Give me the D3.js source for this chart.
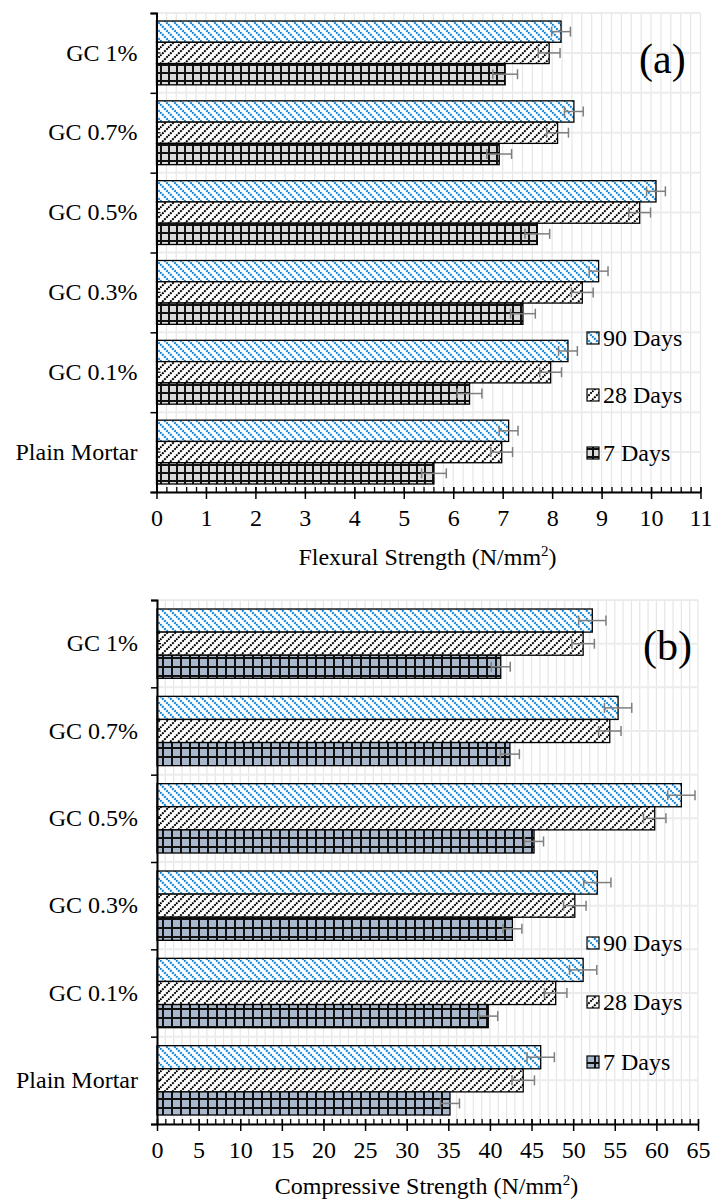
<!DOCTYPE html>
<html>
<head>
<meta charset="utf-8">
<script src="https://cdn.jsdelivr.net/npm/d3@7"></script>
<style>
  html, body { margin: 0; padding: 0; background: #fff; }
  svg { display: block; }
  text { font-family: "Liberation Serif", "Times New Roman", serif; fill: #000; }
</style>
</head>
<body>
<svg id="chart" width="712" height="1200"></svg>
<script>
// Mix designs, listed top to bottom as they appear on the category axis
const categories = ["GC 1%", "GC 0.7%", "GC 0.5%", "GC 0.3%", "GC 0.1%", "Plain Mortar"];
const seriesNames = ["90 Days", "28 Days", "7 Days"];

// Flexural strength (N/mm²)
const flexural90 = [8.18, 8.44, 10.10, 8.94, 8.32, 7.12];
const flexural28 = [7.94, 8.11, 9.77, 8.61, 7.97, 6.98];
const flexural7  = [7.05, 6.93, 7.70, 7.41, 6.33, 5.61];
const flexuralErr90 = [0.19, 0.19, 0.19, 0.19, 0.19, 0.19];
const flexuralErr28 = [0.22, 0.22, 0.22, 0.22, 0.22, 0.22];
const flexuralErr7  = [0.25, 0.25, 0.25, 0.25, 0.25, 0.25];
const flexuralTicks = [0, 1, 2, 3, 4, 5, 6, 7, 8, 9, 10, 11];

// Compressive strength (N/mm²)
const compressive90 = [52.3, 55.4, 63.0, 52.9, 51.2, 46.1];
const compressive28 = [51.2, 54.4, 59.8, 50.2, 47.9, 44.0];
const compressive7  = [41.3, 42.4, 45.3, 42.7, 39.8, 35.2];
const compressiveErr90 = [1.64, 1.64, 1.64, 1.64, 1.64, 1.64];
const compressiveErr28 = [1.35, 1.35, 1.35, 1.35, 1.35, 1.35];
const compressiveErr7  = [1.14, 1.14, 1.14, 1.14, 1.14, 1.14];
const compressiveTicks = [0, 5, 10, 15, 20, 25, 30, 35, 40, 45, 50, 55, 60, 65];

const svg = d3.select("#chart");
svg.append("rect").attr("width", 712).attr("height", 1200).attr("fill", "#fff");
const defs = svg.append("defs");

// Fill patterns: 90 days = blue downward diagonal, 28 days = black upward diagonal,
// 7 days = black grid over a tinted background (one tint per panel)
function diagDown(id, color, size) {
  const p = defs.append("pattern").attr("id", id).attr("patternUnits", "userSpaceOnUse")
    .attr("width", size).attr("height", size);
  p.append("rect").attr("width", size).attr("height", size).attr("fill", "#fff");
  p.append("path")
    .attr("d", `M0,0L${size},${size}M${-size/2},${size/2}L${size/2},${size*1.5}M${size/2},${-size/2}L${size*1.5},${size/2}`)
    .attr("stroke", color).attr("stroke-width", 2.2).attr("stroke-dasharray", "2,1");
}
function diagUp(id, color, size) {
  const p = defs.append("pattern").attr("id", id).attr("patternUnits", "userSpaceOnUse")
    .attr("width", size).attr("height", size);
  p.append("rect").attr("width", size).attr("height", size).attr("fill", "#fff");
  p.append("path")
    .attr("d", `M0,${size}L${size},0M${-size/2},${size/2}L${size/2},${-size/2}M${size/2},${size*1.5}L${size*1.5},${size/2}`)
    .attr("stroke", color).attr("stroke-width", 2).attr("stroke-dasharray", "2,1");
}
function grid(id, fill, size) {
  const p = defs.append("pattern").attr("id", id).attr("patternUnits", "userSpaceOnUse")
    .attr("width", size).attr("height", size);
  p.append("rect").attr("width", size).attr("height", size).attr("fill", fill);
  p.append("rect").attr("width", size).attr("height", 2).attr("fill", "#111");
  p.append("rect").attr("width", 2).attr("height", size).attr("fill", "#111");
}
diagDown("pat90", "#1386d2", 8);
diagUp("pat28", "#000", 8);
grid("pat7a", "#d9d9d9", 8);
grid("pat7b", "#a9b8cc", 9);

const FONT = 24;

const panels = [
  {
    top: 13, bottom: 492, left: 156.5, right: 700.5,
    ticks: flexuralTicks, minorStep: 0.2,
    values: [flexural90, flexural28, flexural7],
    errors: [flexuralErr90, flexuralErr28, flexuralErr7],
    fills: ["url(#pat90)", "url(#pat28)", "url(#pat7a)"],
    title: "Flexural Strength (N/mm", titleY: 565,
    tag: "(a)", tagX: 639, tagY: 73,
    legendY: [338, 395, 453], pad: 8
  },
  {
    top: 600, bottom: 1124, left: 157, right: 698,
    ticks: compressiveTicks, minorStep: 1,
    values: [compressive90, compressive28, compressive7],
    errors: [compressiveErr90, compressiveErr28, compressiveErr7],
    fills: ["url(#pat90)", "url(#pat28)", "url(#pat7b)"],
    title: "Compressive Strength (N/mm", titleY: 1194,
    tag: "(b)", tagX: 643, tagY: 660,
    legendY: [943, 1002, 1062], pad: 9
  }
];

panels.forEach(cfg => {
  const g = svg.append("g");
  const maxV = cfg.ticks[cfg.ticks.length - 1];
  const x = d3.scaleLinear().domain([0, maxV]).range([cfg.left, cfg.right]);
  const y0 = d3.scaleBand().domain(categories).range([cfg.top, cfg.bottom]).padding(0);
  const bw = y0.bandwidth();
  const y1 = d3.scaleBand().domain(seriesNames).range([cfg.pad, bw - cfg.pad]).padding(0);
  const yEdge = d3.scaleLinear().domain([0, categories.length]).range([cfg.top, cfg.bottom]);

  // Gridlines
  const minorVals = d3.range(0, maxV + 1e-9, cfg.minorStep);
  g.append("g").selectAll("line").data(minorVals).join("line")
    .attr("x1", d => x(d)).attr("x2", d => x(d))
    .attr("y1", cfg.top).attr("y2", cfg.bottom)
    .attr("stroke", "#e6e6e6").attr("stroke-width", 1.2);
  const halfVals = d3.range(0, categories.length + 1e-9, 0.5);
  g.append("g").selectAll("line").data(halfVals).join("line")
    .attr("x1", cfg.left).attr("x2", cfg.right)
    .attr("y1", d => yEdge(d)).attr("y2", d => yEdge(d))
    .attr("stroke", "#ececec").attr("stroke-width", 2);

  // Bars
  seriesNames.forEach((s, si) => {
    g.append("g").selectAll("rect").data(categories).join("rect")
      .attr("x", x(0))
      .attr("y", c => y0(c) + y1(s))
      .attr("width", (c, i) => x(cfg.values[si][i]) - x(0))
      .attr("height", y1.bandwidth())
      .attr("fill", cfg.fills[si])
      .attr("stroke", "#000").attr("stroke-width", 1.3);
  });

  // Error bars
  seriesNames.forEach((s, si) => {
    const eg = g.append("g").attr("stroke", "#7f7f7f").attr("stroke-width", 1.5);
    categories.forEach((c, i) => {
      const v = cfg.values[si][i], e = cfg.errors[si][i];
      const cy = y0(c) + y1(s) + y1.bandwidth() / 2;
      eg.append("line").attr("x1", x(v - e)).attr("x2", x(v + e)).attr("y1", cy).attr("y2", cy);
      eg.append("line").attr("x1", x(v - e)).attr("x2", x(v - e)).attr("y1", cy - 5).attr("y2", cy + 5);
      eg.append("line").attr("x1", x(v + e)).attr("x2", x(v + e)).attr("y1", cy - 5).attr("y2", cy + 5);
    });
  });

  // X axis: minor ticks inside, major ticks crossing, labels below
  const xMinor = g.append("g").attr("transform", `translate(0,${cfg.bottom})`)
    .call(d3.axisBottom(x).tickValues(minorVals).tickSize(-5).tickFormat(""));
  xMinor.select(".domain").remove();
  xMinor.selectAll("line").attr("stroke", "#000").attr("stroke-width", 1.3);
  const xMajor = g.append("g").attr("transform", `translate(0,${cfg.bottom})`)
    .call(d3.axisBottom(x).tickValues(cfg.ticks).tickSizeInner(7).tickSizeOuter(0).tickPadding(10).tickFormat(d3.format("d")));
  xMajor.attr("font-family", null).attr("font-size", null);
  xMajor.select(".domain").attr("stroke", "#000").attr("stroke-width", 2);
  xMajor.selectAll(".tick line").attr("stroke", "#000").attr("stroke-width", 1.5)
    .attr("y1", -5);
  xMajor.selectAll("text").attr("font-size", FONT).attr("fill", "#000");

  // Y axis: boundary ticks outside, centre ticks inside, category labels
  const yTicks = g.append("g").attr("transform", `translate(${cfg.left},0)`)
    .call(d3.axisLeft(yEdge).tickValues(d3.range(0, categories.length + 1)).tickSize(6).tickFormat(""));
  yTicks.select(".domain").attr("stroke", "#000").attr("stroke-width", 2);
  yTicks.selectAll("line").attr("stroke", "#000").attr("stroke-width", 1.5);
  const yLab = g.append("g").attr("transform", `translate(${cfg.left},0)`)
    .call(d3.axisLeft(y0).tickSize(-4).tickPadding(19));
  yLab.attr("font-family", null).attr("font-size", null);
  yLab.select(".domain").remove();
  yLab.selectAll("line").attr("stroke", "#000").attr("stroke-width", 1.3);
  yLab.selectAll("text").attr("font-size", FONT).attr("fill", "#000");

  // Axis title with superscript
  const t = g.append("text").attr("x", (cfg.left + cfg.right) / 2 - 1).attr("y", cfg.titleY)
    .attr("text-anchor", "middle").attr("font-size", FONT);
  t.append("tspan").text(cfg.title);
  t.append("tspan").text("2").attr("font-size", 15).attr("dy", -9);
  t.append("tspan").text(")").attr("dy", 9);

  // Panel tag
  g.append("text").attr("x", cfg.tagX).attr("y", cfg.tagY).attr("font-size", 42).text(cfg.tag);

  // Legend
  const lg = g.append("g");
  seriesNames.forEach((s, si) => {
    const ly = cfg.legendY[si];
    lg.append("rect").attr("x", 587).attr("y", ly - 6).attr("width", 12).attr("height", 12)
      .attr("fill", cfg.fills[si]).attr("stroke", "#000").attr("stroke-width", 1.2);
    lg.append("text").attr("x", 603).attr("y", ly).attr("dy", "0.35em")
      .attr("font-size", FONT).text(s);
  });
});
</script>
</body>
</html>
